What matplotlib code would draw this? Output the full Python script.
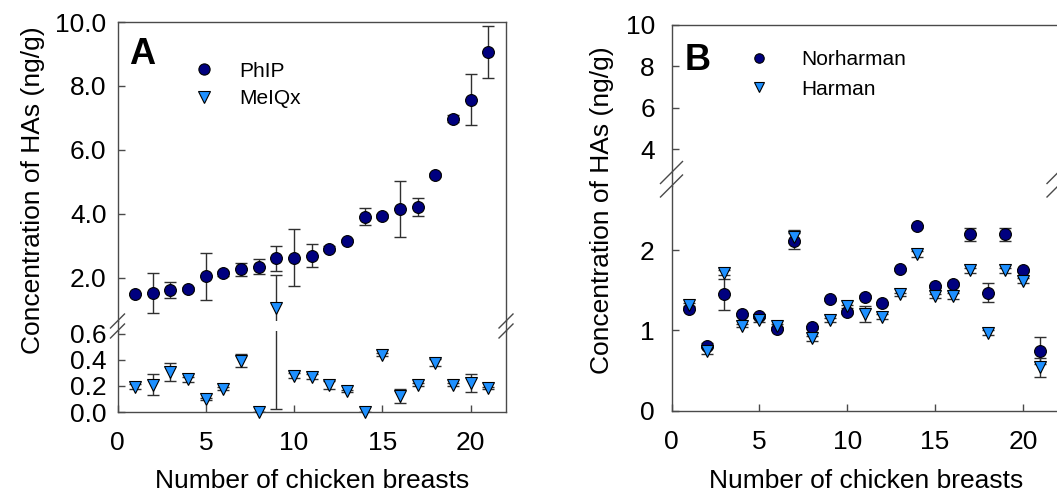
import matplotlib
matplotlib.use('Agg')
import matplotlib.pyplot as plt
import numpy as np
from matplotlib.lines import Line2D

plt.rcParams['font.family'] = ['Liberation Sans', 'DejaVu Sans']

W, H = 1057, 495

# Data
samples = np.arange(1, 22)

phip = [1.51, 1.54, 1.62, 1.65, 2.05, 2.15, 2.27, 2.35, 2.61, 2.64, 2.70,
        2.91, 3.16, 3.92, 3.94, 4.16, 4.22, 5.22, 6.98, 7.57, 9.06]
phip_err = [0.03, 0.62, 0.25, 0.06, 0.74, 0.08, 0.20, 0.24, 0.38, 0.88, 0.36,
            0.08, 0.05, 0.26, 0.05, 0.88, 0.28, 0.05, 0.12, 0.79, 0.80]
meiqx = [0.195, 0.21, 0.305, 0.25, 0.10, 0.18, 0.395, 0.0, 1.06, 0.28, 0.27,
         0.21, 0.16, 0.0, 0.44, 0.125, 0.21, 0.38, 0.21, 0.22, 0.185]
meiqx_err = [0.02, 0.08, 0.07, 0.02, 0.01, 0.01, 0.05, 0.0, 1.04, 0.02, 0.02,
             0.03, 0.01, 0.0, 0.01, 0.055, 0.01, 0.03, 0.01, 0.07, 0.01]

norharman = [1.27, 0.81, 1.45, 1.20, 1.18, 1.02, 2.11, 1.04, 1.39, 1.23, 1.42,
             1.34, 1.76, 2.30, 1.55, 1.58, 2.20, 1.47, 2.20, 1.75, 0.75]
norharman_err = [0.02, 0.03, 0.19, 0.02, 0.02, 0.02, 0.10, 0.02, 0.02, 0.02, 0.02,
                 0.02, 0.02, 0.02, 0.02, 0.02, 0.08, 0.12, 0.08, 0.02, 0.17]
harman = [1.32, 0.75, 1.72, 1.06, 1.13, 1.06, 2.17, 0.90, 1.13, 1.30, 1.21,
          1.17, 1.45, 1.95, 1.43, 1.43, 1.75, 0.97, 1.75, 1.62, 0.54]
harman_err = [0.02, 0.04, 0.03, 0.02, 0.02, 0.02, 0.08, 0.03, 0.02, 0.02, 0.10,
              0.03, 0.02, 0.04, 0.02, 0.04, 0.03, 0.03, 0.03, 0.03, 0.12]

# Style
circle_color = '#00007f'
tri_color = '#1e90ff'
spine_color = '#4a4a4a'
err_color = '#303030'
font_size = 19

fig = plt.figure(figsize=(W / 100, H / 100), dpi=100)


def px_axes(left, top, right, bottom):
    return fig.add_axes([left / W, 1 - bottom / H, (right - left) / W,
                         (bottom - top) / H])


def fig_line(xs, ys, lw=1.0):
    fig.add_artist(Line2D([x / W for x in xs], [1 - y / H for y in ys],
                          transform=fig.transFigure, color=spine_color, lw=lw))


def style(ax):
    for s in ax.spines.values():
        s.set_color(spine_color)
        s.set_linewidth(1.0)
    ax.tick_params(direction='in', length=5, width=1, color=spine_color,
                   labelsize=font_size, pad=8)


def broken_panel(left, right, top, split_top, split_bot, bottom, up_lim, low_lim, slash):
    up = px_axes(left, top, right, split_top)
    low = px_axes(left, split_bot, right, bottom)
    for ax in (up, low):
        style(ax)
        ax.set_xlim(0, 22)
    up.set_ylim(*up_lim)
    low.set_ylim(*low_lim)
    up.spines['bottom'].set_visible(False)
    low.spines['top'].set_visible(False)
    up.tick_params(axis='x', bottom=False, labelbottom=False)
    low.set_xticks([0, 5, 10, 15, 20])
    low.tick_params(axis='x', pad=14)
    # join the spines through the break and draw the slashes
    for x in (left, right):
        fig_line([x, x], [split_top, split_bot])
        for y in (split_top, split_bot):
            fig_line([x - slash, x + slash], [y + slash, y - slash])
    return up, low


def draw_series(axes, y, err, marker, color, ms, label):
    y = np.asarray(y)
    for ax in axes:
        ax.errorbar(samples, y, yerr=err, fmt='none', ecolor=err_color,
                    elinewidth=1, capsize=4, capthick=1, zorder=2)
    handle = None
    for ax in axes:
        lo, hi = ax.get_ylim()
        m = (y >= lo) & (y <= hi)
        ln, = ax.plot(samples[m], y[m], ls='none', marker=marker, ms=ms,
                      mfc=color, mec='black', mew=0.8, clip_on=False,
                      zorder=3, label=label)
        if handle is None:
            handle = ln
    return handle


# Panel A
a_up, a_low = broken_panel(117.5, 506, 22, 321, 331, 412, (0.656, 10), (0, 0.623), 7)
a_up.set_yticks([2, 4, 6, 8, 10])
a_up.set_yticklabels(['2.0', '4.0', '6.0', '8.0', '10.0'])
a_low.set_yticks([0, 0.2, 0.4, 0.6])
a_low.set_yticklabels(['0.0', '0.2', '0.4', '0.6'])
h1 = draw_series((a_up, a_low), phip, phip_err, 'o', circle_color, 8.5, 'PhIP')
h2 = draw_series((a_up, a_low), meiqx, meiqx_err, 'v', tri_color, 9, 'MeIQx')
a_up.legend(handles=[h1, h2], loc='upper left', bbox_to_anchor=(0.147, 0.93),
            frameon=False, fontsize=15, handlelength=1, handletextpad=1.2,
            labelspacing=0.4, markerscale=0.95)
a_up.text(0.03, 0.95, 'A', transform=a_up.transAxes, fontsize=26,
          fontweight='bold', ha='left', va='top')

# Panel B
b_up, b_low = broken_panel(671.5, 1058, 25, 172.5, 186, 410.7, (2.88, 10), (0, 2.8), 11)
b_up.set_yticks([4, 6, 8, 10])
b_low.set_yticks([0, 1, 2])
b_up.tick_params(axis='y', pad=12)
b_low.tick_params(axis='y', pad=12)
h3 = draw_series((b_up, b_low), norharman, norharman_err, 'o', circle_color, 8.5, 'Norharman')
h4 = draw_series((b_up, b_low), harman, harman_err, 'v', tri_color, 9, 'Harman')
b_up.legend(handles=[h3, h4], loc='upper left', bbox_to_anchor=(0.152, 0.956),
            frameon=False, fontsize=15, handlelength=1, handletextpad=1.5,
            labelspacing=0.5, markerscale=0.8)
b_up.text(0.035, 0.88, 'B', transform=b_up.transAxes, fontsize=26,
          fontweight='bold', ha='left', va='top')

# Axis titles
fig.text(33 / W, 1 - 190 / H, 'Concentration of HAs (ng/g)', rotation=90,
         ha='center', va='center', fontsize=font_size)
fig.text(602 / W, 1 - 210 / H, 'Concentration of HAs (ng/g)', rotation=90,
         ha='center', va='center', fontsize=font_size)
fig.text(312 / W, 1 - 488 / H, 'Number of chicken breasts', ha='center',
         va='baseline', fontsize=font_size)
fig.text(866 / W, 1 - 488 / H, 'Number of chicken breasts', ha='center',
         va='baseline', fontsize=font_size)

fig.savefig('out.png', dpi=100)
